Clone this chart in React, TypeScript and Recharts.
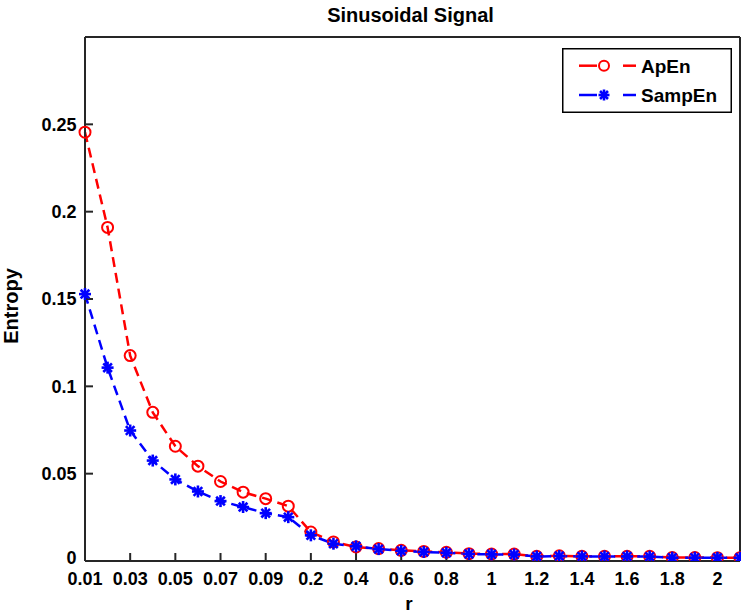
import React from 'react';
import { LineChart, Line, XAxis, YAxis, Legend, Customized } from 'recharts';

const FONT = "'Liberation Sans', Arial, Helvetica, sans-serif";
const AXIS = '#262626';

const rLabels = ['0.01', '0.02', '0.03', '0.04', '0.05', '0.06', '0.07', '0.08', '0.09', '0.1',
  '0.2', '0.3', '0.4', '0.5', '0.6', '0.7', '0.8', '0.9', '1', '1.1',
  '1.2', '1.3', '1.4', '1.5', '1.6', '1.7', '1.8', '1.9', '2', '2.1'];

const apenValues = [0.2455, 0.191, 0.1176, 0.0851, 0.0657, 0.0543, 0.0455, 0.0394, 0.0357, 0.0314,
  0.0166, 0.0109, 0.008, 0.0071, 0.0061, 0.0055, 0.005, 0.0042, 0.004, 0.004,
  0.0027, 0.003, 0.0027, 0.0027, 0.0027, 0.0027, 0.002, 0.002, 0.0019, 0.0019];

const sampenValues = [0.1528, 0.1107, 0.0747, 0.0575, 0.0467, 0.0398, 0.0343, 0.0309, 0.0274, 0.0251,
  0.0147, 0.0099, 0.0084, 0.0068, 0.0058, 0.0052, 0.0047, 0.004, 0.0038, 0.0037,
  0.0026, 0.0028, 0.0026, 0.0026, 0.0026, 0.0025, 0.0019, 0.0019, 0.0018, 0.0018];

const yTicks = [0, 0.05, 0.1, 0.15, 0.2, 0.25];
const yTickLabels = ['0', '0.05', '0.1', '0.15', '0.2', '0.25'];

const data = rLabels.map((r, i) => ({ r, apen: apenValues[i], sampen: sampenValues[i] }));

const tickStyle = { fontSize: 18, fontWeight: 'bold', fill: '#000', fontFamily: FONT };

const YTick = (props: any) => {
  const { x, y, payload } = props;
  const v = payload?.value;
  const idx = yTicks.indexOf(v);
  const label = idx >= 0 ? yTickLabels[idx] : String(v);
  const shift = v === 0 ? -3 : 0;
  return (
    <text x={x} y={y + 6.4 + shift} textAnchor="end" fontSize={18} fontWeight="bold" fill="#000" fontFamily={FONT}>
      {label}
    </text>
  );
};

const CircleDot = (props: any) => {
  const { cx, cy } = props;
  if (cx == null || cy == null) return null;
  return <circle cx={cx} cy={cy} r={5.5} fill="none" stroke="#ff0000" strokeWidth={2} />;
};

const StarShape = ({ cx, cy, s = 6 }: { cx: number; cy: number; s?: number }) => {
  const d = s * 0.72;
  return (
    <g stroke="#0000ff" strokeWidth={2.6}>
      <line x1={cx - s} y1={cy} x2={cx + s} y2={cy} />
      <line x1={cx} y1={cy - s} x2={cx} y2={cy + s} />
      <line x1={cx - d} y1={cy - d} x2={cx + d} y2={cy + d} />
      <line x1={cx - d} y1={cy + d} x2={cx + d} y2={cy - d} />
    </g>
  );
};

const StarDot = (props: any) => {
  const { cx, cy } = props;
  if (cx == null || cy == null) return null;
  return <StarShape cx={cx} cy={cy} />;
};

const LegendBox = () => (
  <svg width={170} height={65} style={{ display: 'block' }}>
    <rect x={0.75} y={0.75} width={168.5} height={63.5} fill="#fff" stroke="#000" strokeWidth={1.5} />
    <g>
      <line x1={17} y1={17.7} x2={35} y2={17.7} stroke="#ff0000" strokeWidth={2.5} />
      <line x1={61} y1={17.7} x2={74} y2={17.7} stroke="#ff0000" strokeWidth={2.5} />
      <circle cx={42} cy={17.7} r={5} fill="none" stroke="#ff0000" strokeWidth={2} />
      <text x={79} y={24.5} fontFamily={FONT} fontWeight="bold" fontSize={19} fill="#000">ApEn</text>
    </g>
    <g>
      <line x1={17} y1={47} x2={35} y2={47} stroke="#0000ff" strokeWidth={2.5} />
      <line x1={61} y1={47} x2={74} y2={47} stroke="#0000ff" strokeWidth={2.5} />
      <StarShape cx={42} cy={47} s={5.5} />
      <text x={79} y={53.8} fontFamily={FONT} fontWeight="bold" fontSize={19} fill="#000">SampEn</text>
    </g>
  </svg>
);

const Texts = () => (
  <g fontFamily={FONT} fontWeight="bold" fill="#000">
    <text x={410.5} y={22} textAnchor="middle" fontSize={20}>Sinusoidal Signal</text>
    <text x={409} y={610} textAnchor="middle" fontSize={19}>r</text>
    <text x={18} y={306} textAnchor="middle" fontSize={20} transform="rotate(-90, 18, 306)">Entropy</text>
  </g>
);

export default function App() {
  return (
    <div style={{ position: 'absolute', left: 0, top: 0, width: 741, height: 615, background: '#fff' }}>
      <LineChart width={741} height={615} data={data} margin={{ top: 36, right: 0, bottom: 0, left: 0 }}>
        <XAxis
          dataKey="r"
          interval={1}
          height={54}
          tickSize={-8}
          tickMargin={19}
          tick={tickStyle}
          axisLine={{ stroke: AXIS, strokeWidth: 2 }}
          tickLine={{ stroke: AXIS, strokeWidth: 2 }}
        />
        <XAxis
          xAxisId="top"
          dataKey="r"
          orientation="top"
          interval={1}
          height={1}
          tickSize={-8}
          tick={false}
          axisLine={{ stroke: AXIS, strokeWidth: 2 }}
          tickLine={{ stroke: AXIS, strokeWidth: 2 }}
        />
        <YAxis
          type="number"
          domain={[0, 0.3]}
          ticks={yTicks}
          width={85}
          tickSize={-8}
          tickMargin={16.5}
          tick={YTick}
          axisLine={{ stroke: AXIS, strokeWidth: 2 }}
          tickLine={{ stroke: AXIS, strokeWidth: 2 }}
          allowDataOverflow
        />
        <YAxis
          yAxisId="right"
          orientation="right"
          type="number"
          domain={[0, 0.3]}
          ticks={yTicks}
          width={1}
          tickSize={-8}
          tick={false}
          axisLine={{ stroke: AXIS, strokeWidth: 2 }}
          tickLine={{ stroke: AXIS, strokeWidth: 2 }}
          allowDataOverflow
        />
        <Line
          dataKey="apen"
          name="ApEn"
          stroke="#ff0000"
          strokeWidth={2.5}
          strokeDasharray="10 6"
          dot={CircleDot}
          activeDot={false}
          isAnimationActive={false}
        />
        <Line
          dataKey="sampen"
          name="SampEn"
          stroke="#0000ff"
          strokeWidth={2.5}
          strokeDasharray="10 6"
          dot={StarDot}
          activeDot={false}
          isAnimationActive={false}
        />
        <Legend
          layout="vertical"
          align="center"
          verticalAlign="middle"
          content={() => <LegendBox />}
          wrapperStyle={{ left: 562, top: 48, width: 170, height: 65 }}
        />
        <Customized component={Texts} />
      </LineChart>
    </div>
  );
}
